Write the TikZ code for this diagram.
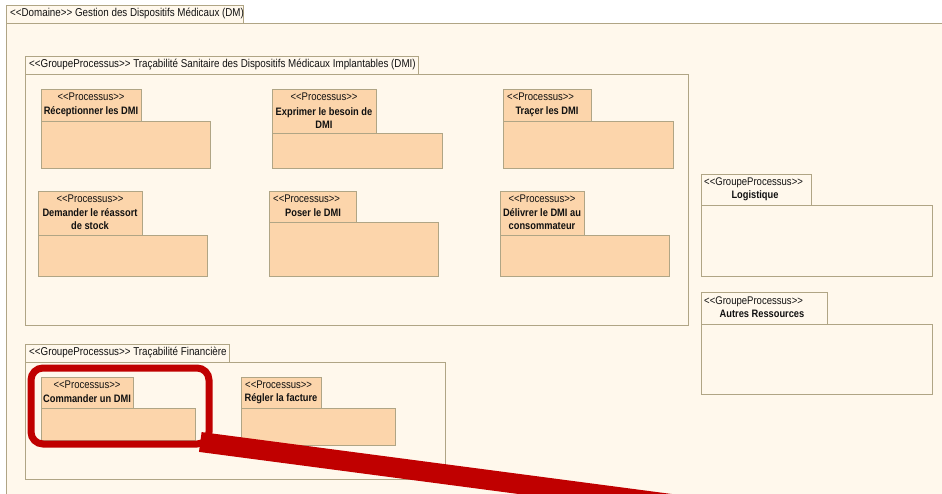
\documentclass[tikz,border=0pt]{standalone}
\usepackage{fontspec}
\setmainfont[FakeStretch=0.86,Ligatures=TeXOff]{Liberation Sans}
\definecolor{cream}{HTML}{FFF8EC}
\definecolor{peach}{HTML}{FCD5AB}
\definecolor{bd}{HTML}{B0A585}
\definecolor{txt}{HTML}{111111}
\definecolor{redc}{HTML}{C00000}
\tikzset{
  frame/.style={draw=bd, line width=0.9pt},
  ptab/.style={frame, fill=peach},
  gtab/.style={frame, fill=cream},
  st/.style={inner sep=0pt, text=txt, font=\fontsize{11.1}{12}\selectfont, text height=7.8pt, text depth=2pt},
  nm/.style={inner sep=0pt, text=txt, font=\bfseries\fontsize{10.8}{12.5}\selectfont, align=center},
  lbl/.style={inner sep=0pt, anchor=west, text=txt, font=\fontsize{11.4}{12}\selectfont, text height=7.8pt, text depth=2pt},
  hl/.style={draw=redc, line width=7pt, rounded corners=12pt},
  pointer/.style={draw=redc, line width=20pt}
}
\begin{document}
\begin{tikzpicture}[x=1pt,y=-1pt]
\useasboundingbox (0,0) rectangle (942,494);
\fill[white] (0,0) rectangle (942,494);
% Domain
\fill[cream] (6,23) rectangle (942,494);
\draw[frame] (6,494) -- (6,23) -- (942,23);
\draw[gtab] (6,5) rectangle (243,23);
\node[lbl] (dom) at (10,14) {<<Domaine>> Gestion des Dispositifs Médicaux (DM)};

% Groupe Sanitaire
\draw[frame] (25,74) rectangle (688,325);
\draw[gtab] (25,56) rectangle (418,74);
\node[lbl] (gsan) at (29,65) {<<GroupeProcessus>> Traçabilité Sanitaire des Dispositifs Médicaux Implantables (DMI)};

% Réceptionner
\draw[ptab] (41,121) rectangle (210,168);
\draw[ptab] (41,89) rectangle (141,121);
\node[st] (p1s) at (91,98) {<<Processus>>};
\node[nm] (p1n) at (91,112) {Réceptionner les DMI};

% Exprimer
\draw[ptab] (272,133) rectangle (442,168);
\draw[ptab] (272,89) rectangle (376,133);
\node[st] (p2s) at (324,98) {<<Processus>>};
\node[nm] (p2n) at (324,118) {Exprimer le besoin de\\DMI};

% Tracer
\draw[ptab] (503,121) rectangle (673,168);
\draw[ptab] (503,89) rectangle (591,121);
\node[st, anchor=west] (p3s) at (507,98) {<<Processus>>};
\node[nm] (p3n) at (547,112) {Traçer les DMI};

% Demander
\draw[ptab] (38,235) rectangle (207,276);
\draw[ptab] (38,191) rectangle (142,235);
\node[st] (p4s) at (90,200) {<<Processus>>};
\node[nm] (p4n) at (90,219) {Demander le réassort\\de stock};

% Poser
\draw[ptab] (269,222) rectangle (438,276);
\draw[ptab] (269,191) rectangle (356,222);
\node[st, anchor=west] (p5s) at (273,200) {<<Processus>>};
\node[nm] (p5n) at (313,213) {Poser le DMI};

% Délivrer
\draw[ptab] (500,235) rectangle (669,276);
\draw[ptab] (500,191) rectangle (584,235);
\node[st] (p6s) at (542,200) {<<Processus>>};
\node[nm] (p6n) at (542,219) {Délivrer le DMI au\\consommateur};

% Logistique
\draw[frame] (701,205) rectangle (932,276);
\draw[gtab] (701,174) rectangle (811,205);
\node[st, anchor=west] (glogs) at (704,183) {<<GroupeProcessus>>};
\node[nm] (glogn) at (755,196) {Logistique};

% Autres Ressources
\draw[frame] (701,324) rectangle (932,394);
\draw[gtab] (701,292) rectangle (827,324);
\node[st, anchor=west] (gauts) at (704,302) {<<GroupeProcessus>>};
\node[nm] (gautn) at (762,314) {Autres Ressources};

% Groupe Financière
\draw[frame] (25,362) rectangle (445,479);
\draw[gtab] (25,344) rectangle (229,362);
\node[lbl] (gfin) at (29,353) {<<GroupeProcessus>> Traçabilité Financière};

% Commander
\draw[ptab] (41,408) rectangle (195,440);
\draw[ptab] (41,377) rectangle (133,408);
\node[st] (p7s) at (87,386) {<<Processus>>};
\node[nm] (p7n) at (87,399) {Commander un DMI};

% Régler
\draw[ptab] (241,408) rectangle (395,445);
\draw[ptab] (241,377) rectangle (321,408);
\node[st, anchor=west] (p8s) at (245,386) {<<Processus>>};
\node[nm] (p8n) at (281,399) {Régler la facture};

% Red highlight
\draw[hl] (31,368) rectangle (209,444);
\coordinate (ps) at (200.3,442);
\coordinate (pe) at (800,521);
\begin{scope}
\clip (0,0) rectangle (942,494);
\draw[pointer] (ps) -- (pe);
\end{scope}
\end{tikzpicture}
\end{document}
